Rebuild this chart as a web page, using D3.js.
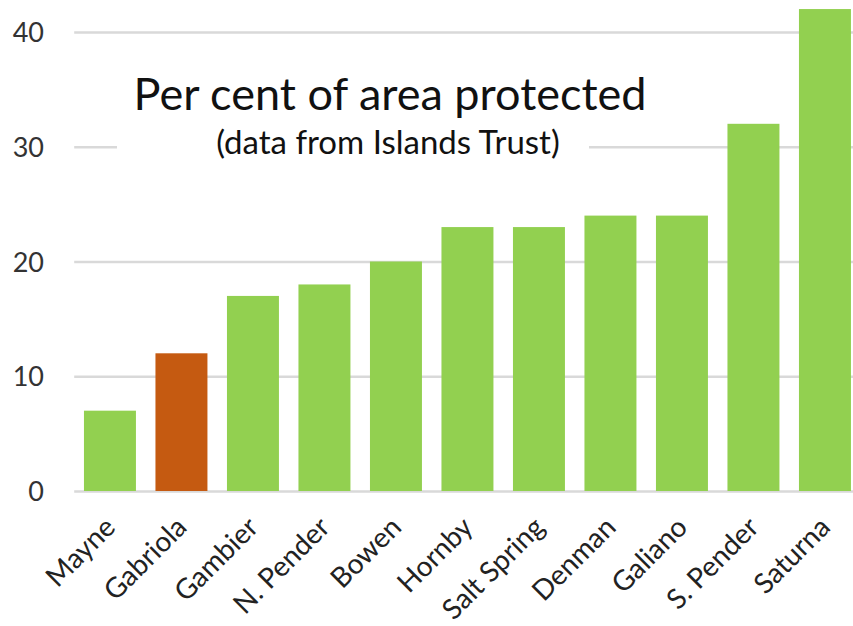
<!DOCTYPE html>
<html>
<head>
<meta charset="utf-8">
<script src="https://cdn.jsdelivr.net/npm/d3@7"></script>
<style>
  html, body { margin: 0; padding: 0; background: #fff; }
  svg { display: block; }
</style>
</head>
<body>
<svg id="chart" width="853" height="626"></svg>
<script>
const islands = ["Mayne", "Gabriola", "Gambier", "N. Pender", "Bowen", "Hornby", "Salt Spring", "Denman", "Galiano", "S. Pender", "Saturna"];
const protectedPct = [7, 12, 17, 18, 20, 23, 23, 24, 24, 32, 42];
const highlighted = ["Gabriola"];
const yTicks = [0, 10, 20, 30, 40];
const titleText = "Per cent of area protected";
const subtitleText = "(data from Islands Trust)";

const font = "Lato, 'Open Sans', sans-serif";
const svg = d3.select("#chart");

const x = d3.scaleBand()
  .domain(islands)
  .range([74.2, 860.7])
  .paddingInner(0.273)
  .paddingOuter(0.1365);

const y = d3.scaleLinear()
  .domain([0, 40])
  .range([491, 32]);

// gridlines
const grid = svg.append("g")
  .attr("transform", "translate(74.2,0)")
  .call(d3.axisLeft(y).tickValues(yTicks).tickSize(-(860.7 - 74.2)).tickFormat(""));
grid.select(".domain").remove();
grid.selectAll(".tick line").attr("stroke", "#d9d9d9").attr("stroke-width", 2.5);

// y tick labels
const yAxis = svg.append("g").attr("transform", "translate(44,0)")
  .call(d3.axisLeft(y).tickValues(yTicks).tickSize(0).tickPadding(0));
yAxis.select(".domain").remove();
yAxis.selectAll("text")
  .attr("font-family", font)
  .attr("font-size", 27)
  .attr("fill", "#333")
  .attr("dy", "0.36em");

// title block with white background (interrupts gridline)
svg.append("rect")
  .attr("x", 117).attr("y", 66).attr("width", 472).attr("height", 104)
  .attr("fill", "#fff");
svg.append("text")
  .attr("x", 390).attr("y", 110)
  .attr("text-anchor", "middle")
  .attr("font-family", font)
  .attr("font-size", 45)
  .attr("fill", "#111")
  .text(titleText);
svg.append("text")
  .attr("x", 388).attr("y", 154)
  .attr("text-anchor", "middle")
  .attr("font-family", font)
  .attr("font-size", 33)
  .attr("fill", "#111")
  .text(subtitleText);

// bars
svg.append("g").selectAll("rect")
  .data(islands.map((d, i) => ({ name: d, value: protectedPct[i] })))
  .join("rect")
  .attr("x", d => x(d.name))
  .attr("y", d => y(d.value))
  .attr("width", x.bandwidth())
  .attr("height", d => y(0) - y(d.value))
  .attr("fill", d => highlighted.includes(d.name) ? "#c55a11" : "#92d050");

// x axis labels
const xAxis = svg.append("g").attr("transform", "translate(0,491)")
  .call(d3.axisBottom(x).tickSize(0).tickPadding(0));
xAxis.select(".domain").remove();
xAxis.selectAll("text")
  .attr("font-family", font)
  .attr("font-size", 28)
  .attr("fill", "#222")
  .attr("text-anchor", "end")
  .attr("dy", 0)
  .attr("transform", "translate(7,38) rotate(-45)");
</script>
</body>
</html>
